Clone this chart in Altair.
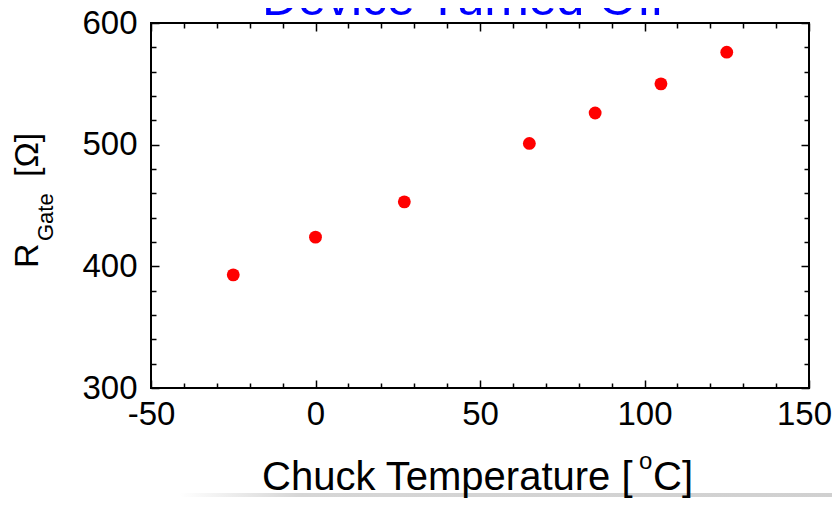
import altair as alt
import pandas as pd

# ---- data ----
temps = [-25, 0, 27, 65, 85, 105, 125]
rgate = [393, 424, 453, 501, 526, 550, 576]

x_ticks = list(range(-50, 151, 10))
y_ticks = list(range(300, 601, 20))
x_labels = [-50, 0, 50, 100, 150]
y_labels = [300, 400, 500, 600]

title_text = "Device Turned Off"
x_title_parts = ["Chuck Temperature [", "o", "C]"]
y_title_parts = ["R", "Gate", "[Ω]"]

W, H = 658, 365
FONT = "Liberation Sans"

df = pd.DataFrame({"t": temps, "r": rgate})
xs = alt.Scale(domain=[-50, 150], nice=False, zero=False)
ys = alt.Scale(domain=[300, 600], nice=False, zero=False)


def tick_axis(orient, values, major, offset):
    return alt.Axis(
        orient=orient, values=values, labels=False, domain=False, grid=False,
        title=None, offset=offset, ticks=True, tickColor="black", tickWidth=1.5,
        tickSize={"condition": {"test": f"datum.value % {major} === 0", "value": 8}, "value": 5},
    )


def label_axis(orient, values, pad, last=None):
    extra = {}
    if last is not None:
        extra["labelOffset"] = {"condition": {"test": f"datum.value === {last}", "value": -5}, "value": 0}
    return alt.Axis(
        orient=orient, values=values, ticks=False, domain=False, grid=False,
        title=None, labelFont=FONT, labelFontSize=33, labelColor="black",
        labelPadding=pad, labelFlush=False, labelOverlap=False,
        labelExpr="'' + datum.value", **extra,
    )


base = alt.Chart(df)

points = base.mark_circle(size=165, color="#ff0000", opacity=1).encode(
    x=alt.X("t:Q", scale=xs, axis=label_axis("bottom", x_labels, 10, last=150)),
    y=alt.Y("r:Q", scale=ys, axis=label_axis("left", y_labels, 14)),
)

ticks_a = base.mark_circle(opacity=0).encode(
    x=alt.X("t:Q", scale=xs, axis=tick_axis("top", x_ticks, 50, -H)),
    y=alt.Y("r:Q", scale=ys, axis=tick_axis("right", y_ticks, 100, -W)),
)

ticks_b = base.mark_circle(opacity=0).encode(
    x=alt.X("t:Q", scale=xs, axis=tick_axis("bottom", x_ticks, 50, -H)),
    y=alt.Y("r:Q", scale=ys, axis=tick_axis("left", y_ticks, 100, -W)),
)


def txt(text, x, y, size, color="black", angle=0, align="left"):
    return alt.Chart(pd.DataFrame({"s": [text]})).mark_text(
        font=FONT, fontSize=size, color=color, angle=angle, align=align,
        baseline="alphabetic",
    ).encode(text="s:N", x=alt.value(x), y=alt.value(y))


shade = alt.Chart(pd.DataFrame({"s": [0]})).mark_rect(
    color=alt.LinearGradient(
        gradient="linear", x1=0, x2=1, y1=0, y2=0,
        stops=[alt.GradientStop(color="#ffffff", offset=0),
               alt.GradientStop(color="#d6d6d6", offset=0.18),
               alt.GradientStop(color="#d0d0d0", offset=1)],
    )
).encode(x=alt.value(29), x2=alt.value(687), y=alt.value(470), y2=alt.value(474))

# the reference crops this title at the top edge; only its lower part shows
title = txt(title_text, 312, -8, 50, color="#0000ff", align="center")
xt1 = txt(x_title_parts[0], 111, 467, 40)
xt2 = txt(x_title_parts[1], 488, 446, 24)
xt3 = txt(x_title_parts[2], 502, 467, 40)
yt1 = txt(y_title_parts[0], -113, 245, 34, angle=270)
yt2 = txt(y_title_parts[1], -98, 218, 22, angle=270)
yt3 = txt(y_title_parts[2], -113, 154, 34, angle=270)

chart = alt.layer(
    shade, ticks_a, ticks_b, points, title, xt1, xt2, xt3, yt1, yt2, yt3
).resolve_axis(x="independent", y="independent").properties(
    width=W, height=H,
    autosize=alt.AutoSizeParams(type="none"),
    padding={"left": 143, "top": 15, "right": 23, "bottom": 110},
).configure_view(stroke="black", strokeWidth=2)

chart.save("out.html", embed_options={"renderer": "svg", "actions": False})
